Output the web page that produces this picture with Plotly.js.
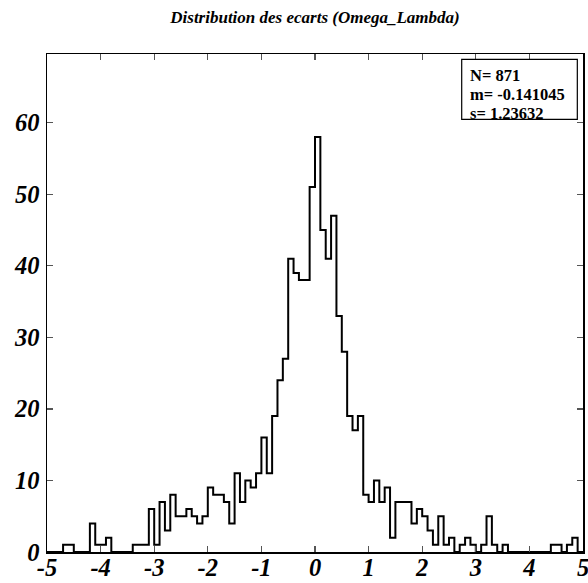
<!DOCTYPE html>
<html>
<head>
<meta charset="utf-8">
<script src="https://cdn.plot.ly/plotly-3.0.1.min.js"></script>
<style>html,body{margin:0;padding:0;background:#fff;}#chart{width:588px;height:583px;}</style>
</head>
<body>
<div id="chart"></div>
<script>
// Histogram: 100 bins of width 0.1 from -5 to 5
const binStart = -5;
const binWidth = 0.1;
const counts = [
  0,0,0,1,1,0,0,0,4,1,
  1,2,0,0,0,0,1,1,1,6,
  1,7,3,8,5,5,6,5,4,5,
  9,8,8,7,4,11,7,10,9,11,
  16,11,19,24,27,41,39,38,38,51,
  58,45,41,47,33,28,19,17,19,8,
  7,10,7,9,2,7,7,7,4,6,
  5,3,1,5,1,2,0,1,2,1,
  0,1,5,1,0,1,0,0,0,0,
  0,0,0,0,1,1,0,1,2,0
];
const xTicks = [-5,-4,-3,-2,-1,0,1,2,3,4,5];
const yTicks = [0,10,20,30,40,50,60];
const titleText = "Distribution des ecarts (Omega_Lambda)";
const statsLines = ["N= 871", "m= -0.141045", "s= 1.23632"];

// step line: bin edges with 'hv' shape
const xs = [], ys = [];
xs.push(binStart); ys.push(0);
for (let i = 0; i < counts.length; i++) {
  xs.push(binStart + i * binWidth);
  ys.push(counts[i]);
}
xs.push(binStart + counts.length * binWidth); ys.push(counts[counts.length-1]);
xs.push(binStart + counts.length * binWidth); ys.push(0);

const tickFont = {family: "Liberation Serif", size: 24.5, color: "#000", weight: "bold", style: "italic"};
const statsFont = {family: "Liberation Serif", size: 16.5, color: "#000", weight: "bold"};

const trace = {
  x: xs, y: ys, type: "scatter", mode: "lines",
  line: {shape: "hv", color: "#000", width: 2},
  hoverinfo: "skip"
};

// stats box placement (paper fractions of plot area)
const statsLineY = [0.957, 0.918, 0.881];
const annotations = statsLines.map((t, i) => ({
  xref: "paper", yref: "paper", x: 0.7854, y: statsLineY[i],
  xanchor: "left", yanchor: "middle", showarrow: false,
  text: t, font: statsFont
}));

const layout = {
  width: 588, height: 583,
  margin: {l: 47, r: 5, t: 54, b: 31, pad: 0},
  paper_bgcolor: "#fff", plot_bgcolor: "#fff",
  showlegend: false,
  title: {
    text: titleText,
    font: {family: "Liberation Serif", size: 17, color: "#000", weight: "bold", style: "italic"},
    x: 0.5, xref: "paper", xanchor: "center",
    y: 1 - 17/583, yref: "container", yanchor: "middle"
  },
  xaxis: {
    range: [-5, 5], tickvals: xTicks, ticktext: xTicks.map(String),
    ticks: "inside", ticklen: 6, tickwidth: 1.2, tickcolor: "#555",
    showline: true, linecolor: "#000", linewidth: 1.5, mirror: "ticks",
    showgrid: false, zeroline: false, tickfont: tickFont,
    ticklabelstandoff: -7, ticklabeloverflow: "allow"
  },
  yaxis: {
    range: [0, 69.6], tickvals: yTicks, ticktext: yTicks.map(String),
    ticks: "inside", ticklen: 6, tickwidth: 1.2, tickcolor: "#555",
    showline: true, linecolor: "#000", linewidth: 1.5, mirror: "ticks",
    showgrid: false, zeroline: false, tickfont: tickFont,
    ticklabelstandoff: 1, ticklabeloverflow: "allow"
  },
  shapes: [{
    type: "rect", xref: "paper", yref: "paper",
    x0: 0.7737, x1: 0.9894, y0: 0.8689, y1: 0.9894,
    line: {color: "#000", width: 1.2}, fillcolor: "#fff", layer: "above"
  }],
  annotations: annotations
};

Plotly.newPlot("chart", [trace], layout, {staticPlot: true, displayModeBar: false});
</script>
</body>
</html>
